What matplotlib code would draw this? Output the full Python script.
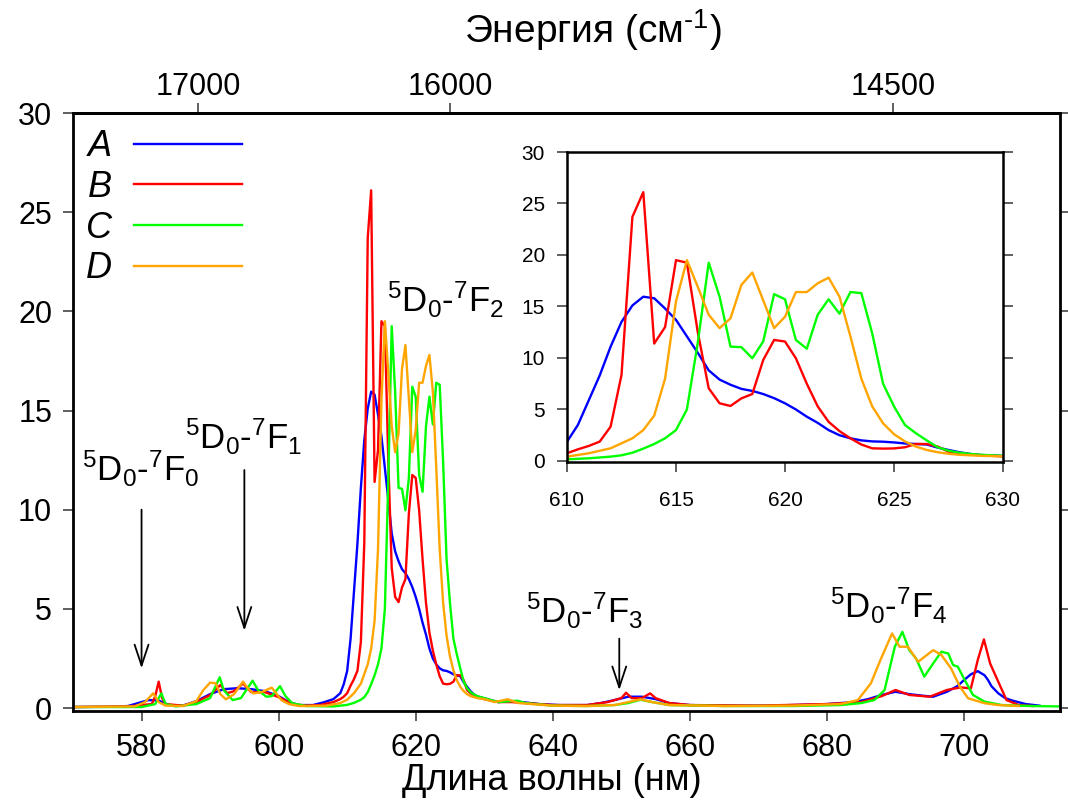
import numpy as np
import matplotlib
matplotlib.use('Agg')
import matplotlib.pyplot as plt

plt.rcParams['font.family'] = ['Liberation Sans', 'DejaVu Sans']
plt.rcParams['mathtext.fontset'] = 'custom'
plt.rcParams['mathtext.rm'] = 'Liberation Sans'
plt.rcParams['mathtext.it'] = 'Liberation Sans:italic'

# A (синий)
wl_a = [570, 575, 578, 579.5, 581, 582.5, 584, 586, 588, 590, 592, 594, 596, 598, 600, 601.5, 603, 605,
        606.5, 608, 609, 609.5, 610, 610.5, 611, 611.5, 612, 612.5, 613, 613.5, 614, 614.5, 615, 615.5,
        616, 616.5, 617, 617.5, 618, 618.5, 619, 619.5, 620, 620.5, 621, 621.5, 622, 622.5, 623, 623.5,
        624, 624.5, 625, 625.5, 626, 626.5, 627, 627.5, 628, 628.5, 629, 630, 632, 634, 636, 638, 641,
        645, 647, 649, 651, 653, 655, 657, 660, 665, 670, 675, 680, 684, 686, 688, 690, 692, 694, 695.5,
        697.5, 699, 700, 701, 702, 703, 703.5, 704, 705, 706, 707, 709, 711]
int_a = [0.05, 0.06, 0.1, 0.25, 0.4, 0.38, 0.15, 0.12, 0.35, 0.7, 0.95, 1.0, 0.95, 0.85, 0.6, 0.3, 0.15, 0.15,
         0.28, 0.45, 0.75, 1.2, 1.87, 3.5, 5.9, 8.3, 11.1, 13.5, 15.1, 15.95, 15.8, 14.8, 13.7, 12.1,
         10.5, 8.8, 7.9, 7.4, 7.0, 6.8, 6.5, 6.1, 5.6, 5.0, 4.3, 3.7, 3.0, 2.5, 2.2, 2.0,
         1.9, 1.87, 1.8, 1.7, 1.65, 1.6, 1.3, 1.07, 0.85, 0.68, 0.58, 0.49, 0.3, 0.35, 0.28, 0.2, 0.15,
         0.15, 0.25, 0.4, 0.57, 0.57, 0.45, 0.25, 0.15, 0.12, 0.12, 0.15, 0.2, 0.3, 0.45, 0.66, 0.82, 0.7, 0.62, 0.57,
         0.82, 1.1, 1.41, 1.7, 1.86, 1.65, 1.41, 1.1, 0.74, 0.5, 0.38, 0.2, 0.12]

# B (красный)
wl_b = [570, 578, 580, 581.5, 582, 582.5, 583, 583.5, 586, 588, 590, 591.5, 592.5, 593.5, 594.8, 596, 598,
        600, 602, 604, 606, 608, 609, 609.5, 610, 610.5, 611, 611.5, 612, 612.5, 613, 613.5, 614, 614.5,
        615, 615.5, 616, 616.5, 617, 617.5, 618, 618.5, 619, 619.5, 620, 620.5, 621, 621.5, 622, 622.5,
        623, 623.5, 624, 624.5, 625, 625.5, 626, 626.5, 627, 627.5, 628, 629, 630, 632, 634, 636, 640,
        645, 648, 650, 650.7, 651.5, 653, 654.2, 655, 657, 660, 670, 680, 685, 688, 690, 692, 695,
        697.5, 699.5, 701, 702, 702.9, 703.8, 705, 706.2, 708, 710]
int_b = [0.05, 0.08, 0.15, 0.2, 0.6, 1.33, 0.5, 0.2, 0.12, 0.3, 0.65, 1.16, 0.75, 0.85, 1.24, 0.8, 0.8,
         0.55, 0.2, 0.12, 0.15, 0.3, 0.45, 0.57, 0.75, 1.13, 1.46, 1.88, 3.33, 8.35, 23.7, 26.1, 11.4, 13.0,
         19.5, 19.25, 12.5, 7.06, 5.6, 5.34, 6.08, 6.5, 9.8, 11.75, 11.6, 9.97, 7.5, 5.3, 3.8, 2.9,
         2.2, 1.6, 1.23, 1.2, 1.22, 1.33, 1.65, 1.65, 1.4, 0.9, 0.75, 0.55, 0.45, 0.3, 0.3, 0.25, 0.15,
         0.15, 0.3, 0.5, 0.77, 0.5, 0.5, 0.74, 0.5, 0.25, 0.15, 0.12, 0.2, 0.3, 0.6, 0.91, 0.66, 0.57,
         0.91, 1.04, 0.99, 2.42, 3.46, 2.25, 1.32, 0.4, 0.15, 0.1]

# C (зеленый)
wl_c = [570, 580, 582, 582.9, 583.5, 585, 588, 590, 591.4, 592, 593.3, 594.5, 596.2, 597, 598.2, 599,
        600.2, 601, 602, 604, 608, 610, 611, 612, 612.5, 613, 613.5, 614, 614.5, 615, 615.5, 616, 616.5,
        617, 617.5, 618, 618.5, 619, 619.5, 620, 620.5, 621, 621.5, 622, 622.5, 623, 623.5, 624, 624.5,
        625, 625.5, 626, 626.5, 627, 627.5, 628, 628.5, 629, 630, 632, 634.8, 636, 640, 645, 649, 651,
        652.8, 654.5, 657, 665, 675, 682, 685, 686.9, 688.4, 689.9, 691, 692, 693, 694.2, 695.5, 696.7,
        697.7, 698.4, 699.1, 700.1, 701.3, 703, 705.5, 708, 710, 714]
int_c = [0.05, 0.05, 0.2, 0.74, 0.2, 0.08, 0.2, 0.5, 1.55, 0.9, 0.4, 0.5, 1.38, 0.9, 0.57, 0.6,
         1.1, 0.6, 0.24, 0.1, 0.08, 0.16, 0.26, 0.42, 0.55, 0.8, 1.2, 1.65, 2.2, 3.0, 5.0, 11.5, 19.25,
         15.95, 11.1, 11.05, 9.97, 11.6, 16.2, 15.7, 11.75, 10.9, 14.2, 15.7, 14.3, 16.4, 16.3, 12.4, 7.5,
         5.3, 3.5, 2.7, 2.0, 1.33, 1.0, 0.8, 0.68, 0.6, 0.5, 0.3, 0.37, 0.25, 0.12, 0.1, 0.15, 0.25,
         0.42, 0.3, 0.15, 0.1, 0.1, 0.15, 0.25, 0.4, 0.9, 3.09, 3.84, 2.92, 2.5, 1.58, 2.25, 2.84,
         2.75, 2.17, 2.08, 1.41, 0.66, 0.32, 0.15, 0.12, 0.1, 0.08]

# D (оранжевый)
wl_d = [570, 579, 580.5, 581.7, 582.5, 583.5, 586, 588, 589, 590, 590.8, 591.5, 592.3, 593.5, 594.8, 595.5,
        596.3, 597.5, 599, 600.4, 601.5, 603, 607, 609, 610, 611, 612, 613, 613.5, 614, 614.5, 615, 615.5,
        616, 616.5, 617, 617.5, 618, 618.5, 619, 619.5, 620, 620.5, 621, 621.5, 622, 622.5, 623, 623.5,
        624, 624.5, 625, 625.5, 626, 626.5, 627, 627.5, 628, 629, 630, 631.5, 633.4, 635, 640, 645, 649,
        651, 652.8, 654.5, 657, 665, 675, 682, 684.5, 686.4, 687.9, 689.5, 690.6, 691.8, 693.3, 695.5,
        696.7, 698.1, 699.4, 700.6, 703, 705, 708]
int_d = [0.05, 0.08, 0.3, 0.74, 0.3, 0.12, 0.1, 0.35, 0.9, 1.28, 1.25, 0.7, 0.44, 0.7, 1.33, 1.0,
         0.74, 0.8, 1.03, 0.4, 0.2, 0.1, 0.12, 0.25, 0.42, 0.75, 1.23, 2.2, 3.0, 4.4, 8.0, 15.5, 19.5,
         16.9, 14.2, 12.9, 13.85, 17.1, 18.3, 15.6, 12.9, 14.0, 16.4, 16.4, 17.25, 17.8, 15.95, 12.1, 8.0,
         5.3, 3.65, 2.6, 1.9, 1.4, 1.07, 0.85, 0.7, 0.6, 0.5, 0.45, 0.3, 0.44, 0.25, 0.12, 0.1, 0.15,
         0.3, 0.44, 0.3, 0.15, 0.1, 0.12, 0.2, 0.4, 1.24, 2.5, 3.76, 3.09, 3.09, 2.33, 2.92,
         2.67, 2.0, 1.07, 0.49, 0.24, 0.15, 0.1]

series = [('A', wl_a, int_a, '#0000ff'),
          ('B', wl_b, int_b, '#ff0000'),
          ('C', wl_c, int_c, '#00ff00'),
          ('D', wl_d, int_d, '#ffa500')]

# переходы: подпись, положение текста, стрелка (x, от y, до y)
trans_labels = [r'$^5$D$_0$-$^7$F$_0$', r'$^5$D$_0$-$^7$F$_1$', r'$^5$D$_0$-$^7$F$_2$',
                r'$^5$D$_0$-$^7$F$_3$', r'$^5$D$_0$-$^7$F$_4$']
trans_pos = [(571.3, 11.45), (586.3, 13.05), (615.8, 19.96), (636.1, 4.28), (680.5, 4.54)]
arrows = [(580, 10.0, 2.0), (595, 12.0, 3.9), (649.7, 3.5, 0.9)]

energy_ticks = [17000, 16000, 14500]

fig = plt.figure(figsize=(10.68, 8), dpi=100)
ax = fig.add_axes([73/1068, 1-711/800, (1060-73)/1068, (711-113)/800])

lines = []
for name, x, y, c in series:
    l, = ax.plot(x, y, color=c, lw=1.7, label=name)
    lines.append(l)

ax.set_xlim(570, 714)
ax.set_ylim(-0.15, 30)
ax.set_xticks(np.arange(580, 701, 20))
ax.set_yticks(np.arange(0, 31, 5))
ax.tick_params(direction='out', length=7, width=1.2, color='#444444', labelsize=22,
               right=True, top=False)
ax.tick_params(axis='x', pad=9)
ax.tick_params(axis='y', pad=8)
for s in ax.spines.values():
    s.set_linewidth(2)

secax = ax.secondary_xaxis('top', functions=(lambda x: 1e7/np.asarray(x, float),
                                              lambda e: 1e7/np.asarray(e, float)))
secax.set_xticks(energy_ticks)
secax.set_xticklabels([str(t) for t in energy_ticks])
secax.tick_params(direction='out', length=7, width=1.2, color='#444444', labelsize=22, pad=1)
secax.spines['top'].set_linewidth(2)

for txt, (tx, ty) in zip(trans_labels, trans_pos):
    ax.text(tx, ty, txt, fontsize=25, ha='left', va='baseline')
for x0, y0, y1 in arrows:
    ax.annotate('', xy=(x0, y1), xytext=(x0, y0),
                arrowprops=dict(arrowstyle='->,head_length=0.6,head_width=0.2', lw=1.3,
                                color='black', shrinkA=0, shrinkB=0, mutation_scale=25))

leg = ax.legend(handles=lines, loc='upper left', bbox_to_anchor=(0.013, 0.973),
                frameon=False, markerfirst=False, borderpad=0, borderaxespad=0,
                handlelength=3.0, handletextpad=0.6, labelspacing=0.16,
                prop={'style': 'italic', 'size': 26})

fig.text(552/1068, 1-780/800, 'Длина волны (нм)', fontsize=26, ha='center', va='center')
fig.text(593/1068, 1-30/800, r'Энергия (см$^{\text{-1}}$)', fontsize=28, ha='center', va='center')

# вставка
axi = fig.add_axes([567/1068, 1-462/800, (1003-567)/1068, (462-152)/800])
for name, x, y, c in series:
    axi.plot(x, y, color=c, lw=1.7)
axi.set_xlim(610, 630)
axi.set_ylim(-0.1, 30)
axi.set_xticks(np.arange(610, 631, 5))
axi.set_yticks(np.arange(0, 31, 5))
axi.tick_params(direction='out', length=7, width=1.2, color='#444444', labelsize=15,
                right=True, top=False)
axi.tick_params(axis='x', pad=14)
axi.tick_params(axis='y', pad=9)
for s in axi.spines.values():
    s.set_linewidth(1.8)

fig.savefig('out.png', dpi=100)
